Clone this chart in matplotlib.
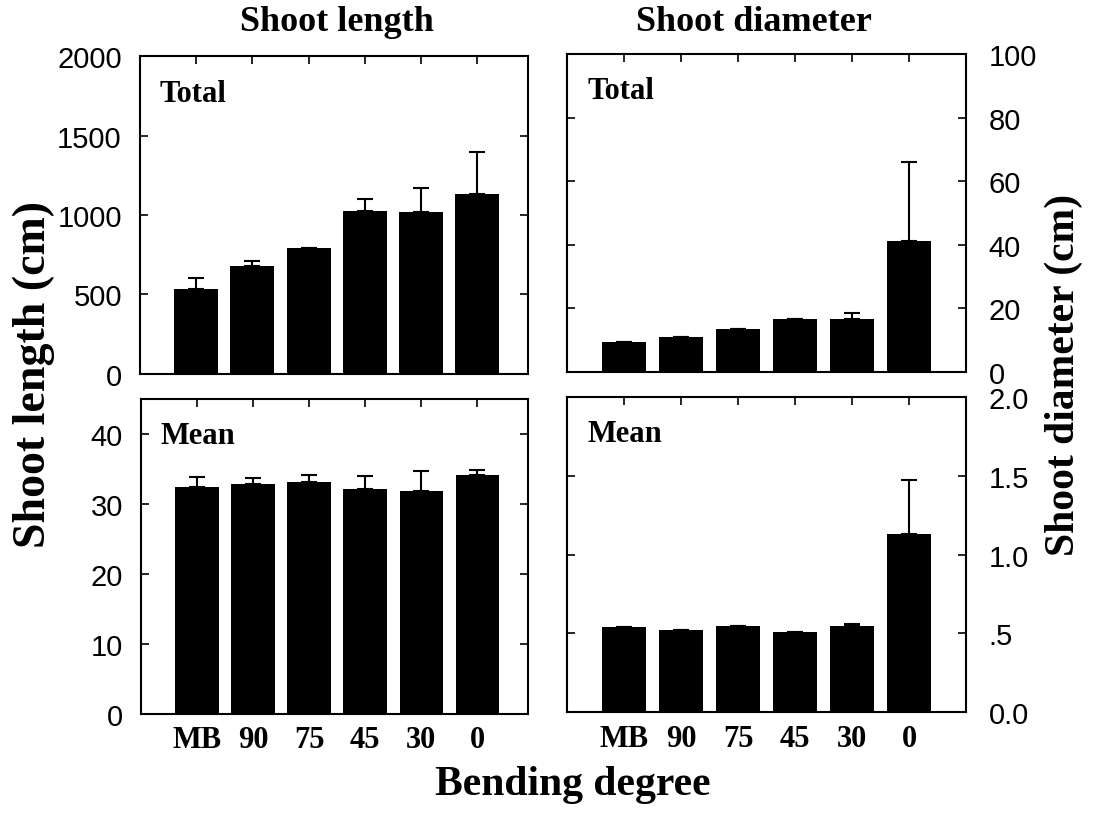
import matplotlib
matplotlib.use('Agg')
import matplotlib.pyplot as plt

# bending treatments
categories = ['MB', '90', '75', '45', '30', '0']

# shoot length (cm)
length_total = [535, 680, 792, 1025, 1019, 1132]
length_total_err = [69, 31, 0, 75, 151, 264]
length_mean = [32.4, 32.9, 33.1, 32.1, 31.9, 34.1]
length_mean_err = [1.5, 0.8, 1.0, 1.9, 2.8, 0.8]

# shoot diameter (cm)
diam_total = [9.5, 11.0, 13.5, 16.7, 16.7, 41.3]
diam_total_err = [0, 0, 0, 0, 1.9, 24.7]
diam_mean = [0.54, 0.525, 0.545, 0.51, 0.545, 1.13]
diam_mean_err = [0, 0, 0, 0, 0.012, 0.34]

SERIF = 'Liberation Serif'
SANS = 'Liberation Sans'


def draw_panel(ax, values, errors, label, ylim, yticks, yticklabels,
               right=False, xlabels=False, xlim=(-1.0, 5.9)):
    x = list(range(len(values)))
    ax.bar(x, values, width=0.78, color='black', zorder=2)
    ax.errorbar(x, values, yerr=[[0] * len(errors), errors], fmt='none',
                ecolor='black', elinewidth=1.5, capsize=6, capthick=1.5,
                zorder=1)
    ax.set_xlim(*xlim)
    ax.set_ylim(*ylim)
    ax.set_yticks(yticks)
    ax.set_yticklabels(yticklabels, fontfamily=SANS)
    ax.set_xticks(x)
    ax.tick_params(axis='x', direction='in', top=True, bottom=False,
                   length=6, width=1.2)
    if xlabels:
        ax.set_xticklabels(categories, fontfamily=SERIF, fontweight='bold',
                           fontsize=22)
        ax.tick_params(axis='x', pad=8)
    else:
        ax.set_xticklabels([])
    ax.tick_params(axis='y', direction='in', left=True, right=True,
                   length=6, width=1.2, labelsize=21)
    if right:
        ax.tick_params(axis='y', labelleft=False, labelright=True, pad=16)
    else:
        ax.tick_params(axis='y', pad=13)
    for s in ax.spines.values():
        s.set_linewidth(1.5)
    ax.text(0.05, 0.93, label, transform=ax.transAxes, ha='left', va='top',
            fontfamily=SERIF, fontweight='bold', fontsize=22)


fig = plt.figure(figsize=(10.93, 8.2), dpi=100)

ax_tl = fig.add_axes([0.128, 0.543, 0.355, 0.387])
ax_tr = fig.add_axes([0.519, 0.545, 0.365, 0.388])
ax_bl = fig.add_axes([0.129, 0.128, 0.354, 0.384])
ax_br = fig.add_axes([0.519, 0.130, 0.365, 0.385])

draw_panel(ax_tl, length_total, length_total_err, 'Total', (0, 2000),
           [0, 500, 1000, 1500, 2000], ['0', '500', '1000', '1500', '2000'])
draw_panel(ax_bl, length_mean, length_mean_err, 'Mean', (0, 45),
           [0, 10, 20, 30, 40], ['0', '10', '20', '30', '40'], xlabels=True)
draw_panel(ax_tr, diam_total, diam_total_err, 'Total', (0, 100),
           [0, 20, 40, 60, 80, 100], ['0', '20', '40', '60', '80', '100'],
           right=True, xlim=(-1.0, 6.0))
draw_panel(ax_br, diam_mean, diam_mean_err, 'Mean', (0, 2.0),
           [0, 0.5, 1.0, 1.5, 2.0], ['0.0', '.5', '1.0', '1.5', '2.0'],
           right=True, xlabels=True, xlim=(-1.0, 6.0))

fig.text(0.308, 0.972, 'Shoot length', ha='center', va='center',
         fontfamily=SERIF, fontweight='bold', fontsize=26)
fig.text(0.690, 0.972, 'Shoot diameter', ha='center', va='center',
         fontfamily=SERIF, fontweight='bold', fontsize=26)
fig.text(0.031, 0.543, 'Shoot length (cm)', ha='center', va='center',
         rotation=90, fontfamily=SERIF, fontweight='bold', fontsize=33)
fig.text(0.973, 0.543, 'Shoot diameter (cm)', ha='center', va='center',
         rotation=90, fontfamily=SERIF, fontweight='bold', fontsize=30)
fig.text(0.524, 0.043, 'Bending degree', ha='center', va='center',
         fontfamily=SERIF, fontweight='bold', fontsize=30)

plt.savefig('out.png', dpi=100)
